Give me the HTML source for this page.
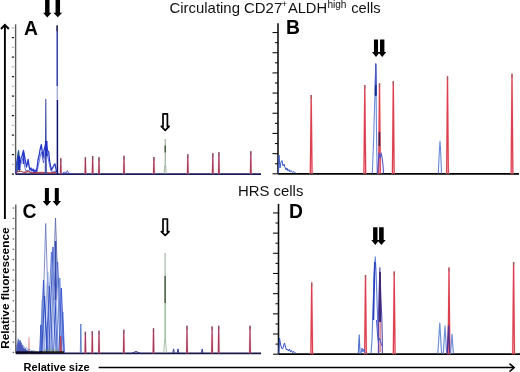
<!DOCTYPE html>
<html><head><meta charset="utf-8"><style>
html,body{margin:0;padding:0;background:#fff;}
svg{display:block;will-change:transform;}
</style></head><body>
<svg width="520" height="372" viewBox="0 0 520 372">
<rect width="520" height="372" fill="#fff"/>
<line x1="15.60" y1="24.30" x2="15.60" y2="174.10" stroke="#5a5a5a" stroke-width="1.40"/><line x1="11.80" y1="174.10" x2="14.00" y2="174.10" stroke="#222" stroke-width="1.3"/><line x1="11.80" y1="164.35" x2="14.00" y2="164.35" stroke="#b8b8b8" stroke-width="1.3"/><line x1="11.80" y1="154.60" x2="14.00" y2="154.60" stroke="#222" stroke-width="1.3"/><line x1="11.80" y1="144.85" x2="14.00" y2="144.85" stroke="#b8b8b8" stroke-width="1.3"/><line x1="11.80" y1="135.10" x2="14.00" y2="135.10" stroke="#222" stroke-width="1.3"/><line x1="11.80" y1="125.35" x2="14.00" y2="125.35" stroke="#b8b8b8" stroke-width="1.3"/><line x1="11.80" y1="115.60" x2="14.00" y2="115.60" stroke="#222" stroke-width="1.3"/><line x1="11.80" y1="105.85" x2="14.00" y2="105.85" stroke="#b8b8b8" stroke-width="1.3"/><line x1="11.80" y1="96.10" x2="14.00" y2="96.10" stroke="#222" stroke-width="1.3"/><line x1="11.80" y1="86.35" x2="14.00" y2="86.35" stroke="#b8b8b8" stroke-width="1.3"/><line x1="11.80" y1="76.60" x2="14.00" y2="76.60" stroke="#222" stroke-width="1.3"/><line x1="11.80" y1="66.85" x2="14.00" y2="66.85" stroke="#b8b8b8" stroke-width="1.3"/><line x1="11.80" y1="57.10" x2="14.00" y2="57.10" stroke="#222" stroke-width="1.3"/><line x1="11.80" y1="47.35" x2="14.00" y2="47.35" stroke="#b8b8b8" stroke-width="1.3"/><line x1="11.80" y1="37.60" x2="14.00" y2="37.60" stroke="#222" stroke-width="1.3"/><line x1="11.80" y1="27.85" x2="14.00" y2="27.85" stroke="#b8b8b8" stroke-width="1.3"/><line x1="15.60" y1="174.10" x2="261.00" y2="174.10" stroke="#1a1a5a" stroke-width="1.80"/>
<line x1="278.00" y1="23.30" x2="278.00" y2="173.80" stroke="#111" stroke-width="1.60"/><line x1="272.50" y1="173.80" x2="278.00" y2="173.80" stroke="#111" stroke-width="1.1"/><line x1="275.00" y1="163.71" x2="278.00" y2="163.71" stroke="#111" stroke-width="1.1"/><line x1="272.50" y1="153.62" x2="278.00" y2="153.62" stroke="#111" stroke-width="1.1"/><line x1="275.00" y1="143.53" x2="278.00" y2="143.53" stroke="#111" stroke-width="1.1"/><line x1="272.50" y1="133.44" x2="278.00" y2="133.44" stroke="#111" stroke-width="1.1"/><line x1="275.00" y1="123.35" x2="278.00" y2="123.35" stroke="#111" stroke-width="1.1"/><line x1="272.50" y1="113.26" x2="278.00" y2="113.26" stroke="#111" stroke-width="1.1"/><line x1="275.00" y1="103.17" x2="278.00" y2="103.17" stroke="#111" stroke-width="1.1"/><line x1="272.50" y1="93.08" x2="278.00" y2="93.08" stroke="#111" stroke-width="1.1"/><line x1="275.00" y1="82.99" x2="278.00" y2="82.99" stroke="#111" stroke-width="1.1"/><line x1="272.50" y1="72.90" x2="278.00" y2="72.90" stroke="#111" stroke-width="1.1"/><line x1="275.00" y1="62.81" x2="278.00" y2="62.81" stroke="#111" stroke-width="1.1"/><line x1="272.50" y1="52.72" x2="278.00" y2="52.72" stroke="#111" stroke-width="1.1"/><line x1="275.00" y1="42.63" x2="278.00" y2="42.63" stroke="#111" stroke-width="1.1"/><line x1="272.50" y1="32.54" x2="278.00" y2="32.54" stroke="#111" stroke-width="1.1"/><line x1="278.00" y1="173.80" x2="519.00" y2="173.80" stroke="#000" stroke-width="1.80"/>
<line x1="15.80" y1="204.50" x2="15.80" y2="353.30" stroke="#5a5a5a" stroke-width="1.40"/><line x1="12.60" y1="352.40" x2="14.20" y2="352.40" stroke="#666" stroke-width="1.2"/><line x1="12.60" y1="342.09" x2="14.20" y2="342.09" stroke="#666" stroke-width="1.2"/><line x1="12.60" y1="331.78" x2="14.20" y2="331.78" stroke="#666" stroke-width="1.2"/><line x1="12.60" y1="321.47" x2="14.20" y2="321.47" stroke="#666" stroke-width="1.2"/><line x1="12.60" y1="311.16" x2="14.20" y2="311.16" stroke="#666" stroke-width="1.2"/><line x1="12.60" y1="300.85" x2="14.20" y2="300.85" stroke="#666" stroke-width="1.2"/><line x1="12.60" y1="290.54" x2="14.20" y2="290.54" stroke="#666" stroke-width="1.2"/><line x1="12.60" y1="280.23" x2="14.20" y2="280.23" stroke="#666" stroke-width="1.2"/><line x1="12.60" y1="269.92" x2="14.20" y2="269.92" stroke="#666" stroke-width="1.2"/><line x1="12.60" y1="259.61" x2="14.20" y2="259.61" stroke="#666" stroke-width="1.2"/><line x1="12.60" y1="249.30" x2="14.20" y2="249.30" stroke="#666" stroke-width="1.2"/><line x1="12.60" y1="238.99" x2="14.20" y2="238.99" stroke="#666" stroke-width="1.2"/><line x1="12.60" y1="228.68" x2="14.20" y2="228.68" stroke="#666" stroke-width="1.2"/><line x1="12.60" y1="218.37" x2="14.20" y2="218.37" stroke="#666" stroke-width="1.2"/><line x1="12.60" y1="208.06" x2="14.20" y2="208.06" stroke="#666" stroke-width="1.2"/><line x1="15.80" y1="353.30" x2="261.00" y2="353.30" stroke="#181848" stroke-width="1.80"/>
<line x1="278.50" y1="203.80" x2="278.50" y2="354.20" stroke="#111" stroke-width="1.60"/><line x1="273.00" y1="354.20" x2="278.50" y2="354.20" stroke="#111" stroke-width="1.1"/><line x1="275.50" y1="344.11" x2="278.50" y2="344.11" stroke="#111" stroke-width="1.1"/><line x1="273.00" y1="334.02" x2="278.50" y2="334.02" stroke="#111" stroke-width="1.1"/><line x1="275.50" y1="323.93" x2="278.50" y2="323.93" stroke="#111" stroke-width="1.1"/><line x1="273.00" y1="313.84" x2="278.50" y2="313.84" stroke="#111" stroke-width="1.1"/><line x1="275.50" y1="303.75" x2="278.50" y2="303.75" stroke="#111" stroke-width="1.1"/><line x1="273.00" y1="293.66" x2="278.50" y2="293.66" stroke="#111" stroke-width="1.1"/><line x1="275.50" y1="283.57" x2="278.50" y2="283.57" stroke="#111" stroke-width="1.1"/><line x1="273.00" y1="273.48" x2="278.50" y2="273.48" stroke="#111" stroke-width="1.1"/><line x1="275.50" y1="263.39" x2="278.50" y2="263.39" stroke="#111" stroke-width="1.1"/><line x1="273.00" y1="253.30" x2="278.50" y2="253.30" stroke="#111" stroke-width="1.1"/><line x1="275.50" y1="243.21" x2="278.50" y2="243.21" stroke="#111" stroke-width="1.1"/><line x1="273.00" y1="233.12" x2="278.50" y2="233.12" stroke="#111" stroke-width="1.1"/><line x1="275.50" y1="223.03" x2="278.50" y2="223.03" stroke="#111" stroke-width="1.1"/><line x1="273.00" y1="212.94" x2="278.50" y2="212.94" stroke="#111" stroke-width="1.1"/><line x1="278.50" y1="354.20" x2="520.00" y2="354.20" stroke="#000" stroke-width="1.80"/>
<text x="169.5" y="12.9" font-size="14.92" font-family='"Liberation Sans", sans-serif' fill='#111'>Circulating CD27</text>
<text x="281.6" y="7.4" font-size="9.6" font-family='"Liberation Sans", sans-serif' fill='#111'>+</text>
<text x="287.9" y="12.9" font-size="14.7" font-family='"Liberation Sans", sans-serif' fill='#111'>ALDH</text>
<text x="327.4" y="7.6" font-size="10.1" font-family='"Liberation Sans", sans-serif' fill='#111'>high</text>
<text x="351.2" y="12.9" font-size="14.7" font-family='"Liberation Sans", sans-serif' fill='#111'>cells</text>
<text x="238.0" y="195.8" font-family='"Liberation Sans", sans-serif' font-size="14.9" fill="#111">HRS cells</text>
<text x="24.0" y="34.9" font-family='"Liberation Sans", sans-serif' font-size="19.3" font-weight="bold" fill="#000">A</text>
<text x="286.0" y="33.8" font-family='"Liberation Sans", sans-serif' font-size="19.3" font-weight="bold" fill="#000">B</text>
<text x="22.4" y="217.7" font-family='"Liberation Sans", sans-serif' font-size="19.3" font-weight="bold" fill="#000">C</text>
<text x="289.0" y="218.1" font-family='"Liberation Sans", sans-serif' font-size="19.3" font-weight="bold" fill="#000">D</text>
<text transform="translate(8.8,348.8) rotate(-90)" x="0" y="0" font-family='"Liberation Sans", sans-serif' font-size="11.8" font-weight="bold" fill="#000">Relative fluorescence</text>
<text x="23.6" y="370.6" font-family='"Liberation Sans", sans-serif' font-size="11" font-weight="bold" fill="#000">Relative size</text>
<line x1="4.9" y1="25" x2="4.9" y2="219" stroke="#000" stroke-width="1.9"/>
<polyline points="1,29 4.9,24.8 8.8,29" fill="none" stroke="#000" stroke-width="1.9"/>
<line x1="98.7" y1="367.6" x2="514" y2="367.6" stroke="#000" stroke-width="1.5"/>
<polyline points="509.5,363.6 514.2,367.6 509.5,371.6" fill="none" stroke="#000" stroke-width="1.5"/>
<polygon points="45.10,-2.00 49.50,-2.00 49.50,12.80 51.50,12.80 47.30,17.60 43.10,12.80 45.10,12.80" fill="#000"/>
<polygon points="55.55,-2.00 60.05,-2.00 60.05,12.80 62.20,12.80 57.80,17.30 53.40,12.80 55.55,12.80" fill="#000"/>
<polygon points="44.90,187.90 48.90,187.90 48.90,201.10 51.10,201.10 46.90,206.00 42.70,201.10 44.90,201.10" fill="#000"/>
<polygon points="54.80,187.90 58.80,187.90 58.80,201.10 61.00,201.10 56.80,206.00 52.60,201.10 54.80,201.10" fill="#000"/>
<polygon points="373.95,39.40 378.05,39.40 378.05,51.90 380.05,51.90 376.00,56.90 371.95,51.90 373.95,51.90" fill="#000"/>
<polygon points="380.00,39.40 384.40,39.40 384.40,51.90 386.30,51.90 382.20,56.90 378.10,51.90 380.00,51.90" fill="#000"/>
<polygon points="373.10,227.30 377.50,227.30 377.50,240.00 379.30,240.00 375.30,245.00 371.30,240.00 373.10,240.00" fill="#000"/>
<polygon points="379.10,227.30 383.70,227.30 383.70,240.00 385.70,240.00 381.40,245.00 377.10,240.00 379.10,240.00" fill="#000"/>
<polygon points="163.00,113.90 167.40,113.90 167.40,126.40 169.10,126.40 165.20,130.40 161.30,126.40 163.00,126.40" fill="#fff" stroke="#000" stroke-width="1.70" stroke-linejoin="round"/>
<polygon points="163.00,219.00 167.40,219.00 167.40,231.60 169.10,231.60 165.20,235.40 161.30,231.60 163.00,231.60" fill="#fff" stroke="#000" stroke-width="1.70" stroke-linejoin="round"/>
<path d="M60.10,174.10 L60.80,158.30 L61.50,174.10" fill="none" stroke="#f0b8c8" stroke-width="1.80" stroke-opacity="0.45"/>
<path d="M60.40,174.10 L60.80,158.30 L61.20,174.10" fill="none" stroke="#a83858" stroke-width="1.10" stroke-opacity="1.00"/>
<line x1="60.80" y1="158.30" x2="60.80" y2="162.30" stroke="#705060" stroke-width="1.3" stroke-opacity="0.7"/>
<path d="M84.70,174.10 L85.40,157.20 L86.10,174.10" fill="none" stroke="#f0b8c8" stroke-width="1.80" stroke-opacity="0.45"/>
<path d="M85.00,174.10 L85.40,157.20 L85.80,174.10" fill="none" stroke="#a83858" stroke-width="1.10" stroke-opacity="1.00"/>
<line x1="85.40" y1="157.20" x2="85.40" y2="161.20" stroke="#705060" stroke-width="1.3" stroke-opacity="0.7"/>
<path d="M91.95,174.10 L92.65,156.00 L93.35,174.10" fill="none" stroke="#f0b8c8" stroke-width="1.80" stroke-opacity="0.45"/>
<path d="M92.25,174.10 L92.65,156.00 L93.05,174.10" fill="none" stroke="#a83858" stroke-width="1.10" stroke-opacity="1.00"/>
<line x1="92.65" y1="156.00" x2="92.65" y2="160.00" stroke="#705060" stroke-width="1.3" stroke-opacity="0.7"/>
<path d="M98.30,174.10 L99.00,157.20 L99.70,174.10" fill="none" stroke="#f0b8c8" stroke-width="1.80" stroke-opacity="0.45"/>
<path d="M98.60,174.10 L99.00,157.20 L99.40,174.10" fill="none" stroke="#a83858" stroke-width="1.10" stroke-opacity="1.00"/>
<line x1="99.00" y1="157.20" x2="99.00" y2="161.20" stroke="#705060" stroke-width="1.3" stroke-opacity="0.7"/>
<path d="M123.30,174.10 L124.00,155.80 L124.70,174.10" fill="none" stroke="#f0b8c8" stroke-width="1.80" stroke-opacity="0.45"/>
<path d="M123.60,174.10 L124.00,155.80 L124.40,174.10" fill="none" stroke="#a83858" stroke-width="1.10" stroke-opacity="1.00"/>
<line x1="124.00" y1="155.80" x2="124.00" y2="159.80" stroke="#705060" stroke-width="1.3" stroke-opacity="0.7"/>
<path d="M153.20,174.10 L153.90,157.10 L154.60,174.10" fill="none" stroke="#f0b8c8" stroke-width="1.80" stroke-opacity="0.45"/>
<path d="M153.50,174.10 L153.90,157.10 L154.30,174.10" fill="none" stroke="#a83858" stroke-width="1.10" stroke-opacity="1.00"/>
<line x1="153.90" y1="157.10" x2="153.90" y2="161.10" stroke="#705060" stroke-width="1.3" stroke-opacity="0.7"/>
<path d="M187.10,174.10 L187.80,154.30 L188.50,174.10" fill="none" stroke="#f0b8c8" stroke-width="1.80" stroke-opacity="0.45"/>
<path d="M187.40,174.10 L187.80,154.30 L188.20,174.10" fill="none" stroke="#a83858" stroke-width="1.10" stroke-opacity="1.00"/>
<line x1="187.80" y1="154.30" x2="187.80" y2="158.30" stroke="#705060" stroke-width="1.3" stroke-opacity="0.7"/>
<path d="M212.10,174.10 L212.80,153.30 L213.50,174.10" fill="none" stroke="#f0b8c8" stroke-width="1.80" stroke-opacity="0.45"/>
<path d="M212.40,174.10 L212.80,153.30 L213.20,174.10" fill="none" stroke="#a83858" stroke-width="1.10" stroke-opacity="1.00"/>
<line x1="212.80" y1="153.30" x2="212.80" y2="157.30" stroke="#705060" stroke-width="1.3" stroke-opacity="0.7"/>
<path d="M218.20,174.10 L218.90,152.20 L219.60,174.10" fill="none" stroke="#f0b8c8" stroke-width="1.80" stroke-opacity="0.45"/>
<path d="M218.50,174.10 L218.90,152.20 L219.30,174.10" fill="none" stroke="#a83858" stroke-width="1.10" stroke-opacity="1.00"/>
<line x1="218.90" y1="152.20" x2="218.90" y2="156.20" stroke="#705060" stroke-width="1.3" stroke-opacity="0.7"/>
<path d="M250.10,174.10 L250.80,151.20 L251.50,174.10" fill="none" stroke="#f0b8c8" stroke-width="1.80" stroke-opacity="0.45"/>
<path d="M250.40,174.10 L250.80,151.20 L251.20,174.10" fill="none" stroke="#a83858" stroke-width="1.10" stroke-opacity="1.00"/>
<line x1="250.80" y1="151.20" x2="250.80" y2="155.20" stroke="#705060" stroke-width="1.3" stroke-opacity="0.7"/>
<line x1="165.2" y1="139" x2="165.2" y2="166" stroke="#8a9e8a" stroke-width="1.0"/>
<polyline points="164.20,174.00 164.70,166.00 165.70,166.00 166.20,174.00" fill="none" stroke="#8a9e8a" stroke-width="0.80" stroke-opacity="1.00" stroke-linejoin="round"/>
<line x1="165.2" y1="145.5" x2="165.2" y2="152.6" stroke="#304830" stroke-width="1.2"/>
<polygon points="16,173 16.5,160 18,155 19.5,162 21,158 23.4,151 25,160 26.5,167 28,160 29.5,170 38,172 39,158 41.8,145 43,152 45,143 48,148 49,156 51,162 53,166 55,164 56.8,172 56.8,174 16,174" fill="#3848d0" fill-opacity="0.0"/>
<polyline points="16.00,173.00 16.80,162.00 17.50,158.00 18.50,151.00 19.30,160.00 20.00,165.00 21.00,158.00 22.00,156.00 23.50,150.50 24.50,156.00 25.50,161.00 26.50,167.00 27.50,163.00 28.20,159.50 29.00,166.00 30.00,170.00 31.00,168.00 32.00,171.00 33.00,169.00 34.00,172.00 35.00,170.00 36.00,172.00 37.00,168.00 38.00,160.00 39.00,156.00 40.00,150.00 41.30,144.60 42.30,152.00 43.00,158.00 44.00,150.00 45.00,147.00 45.80,142.00 46.50,145.00 47.30,150.00 48.70,152.00 49.50,160.00 50.50,166.00 51.50,170.00 52.50,168.00 53.50,166.00 54.90,163.80 55.80,168.00 56.50,172.00" fill="none" stroke="#2838c8" stroke-width="1.30" stroke-opacity="1.00" stroke-linejoin="round"/>
<polyline points="16.00,172.00 17.00,166.00 18.00,160.00 19.00,168.00 20.00,170.00 21.00,163.00 22.00,161.00 23.00,158.00 24.00,163.00 25.00,168.00 26.00,171.00 28.00,170.00 30.00,172.00 33.00,173.00 37.00,172.00 38.50,165.00 39.50,160.00 40.50,155.00 41.50,152.00 42.50,158.00 43.50,163.00 44.50,157.00 45.50,150.00 46.50,148.00 47.50,156.00 48.50,160.00 49.50,165.00 51.00,171.00 53.00,172.00 55.00,171.00 56.50,173.00" fill="none" stroke="#4858d0" stroke-width="1.00" stroke-opacity="0.80" stroke-linejoin="round"/>
<polyline points="17.50,172.00 18.50,151.00 19.50,172.00" fill="none" stroke="#206060" stroke-width="1.10" stroke-opacity="0.90" stroke-linejoin="round"/>
<polyline points="16.00,172.50 20.00,171.00 24.00,172.50 28.00,171.50 32.00,173.00 40.00,172.50 50.00,173.00 56.00,172.50" fill="none" stroke="#a02030" stroke-width="1.30" stroke-opacity="0.80" stroke-linejoin="round"/>
<polyline points="45.30,174.00 45.80,99.20 46.30,174.00" fill="none" stroke="#4050a8" stroke-width="1.10" stroke-opacity="1.00" stroke-linejoin="round"/>
<line x1="46.4" y1="141" x2="46.4" y2="156" stroke="#1828c8" stroke-width="2.2"/>
<line x1="18.8" y1="156" x2="18.8" y2="170" stroke="#1828c0" stroke-width="2.2"/>
<line x1="23.6" y1="153" x2="23.6" y2="164" stroke="#2838c8" stroke-width="1.8"/>
<line x1="57.2" y1="25.5" x2="57.2" y2="86" stroke="#3040a8" stroke-width="1.5"/>
<line x1="57.3" y1="86" x2="57.3" y2="100" stroke="#a8b0d8" stroke-width="1.5"/>
<line x1="57.4" y1="100" x2="57.4" y2="174" stroke="#101070" stroke-width="1.5"/>
<line x1="57.2" y1="25.5" x2="57.2" y2="31.3" stroke="#303048" stroke-width="1.5"/>
<polyline points="62.00,174.00 64.00,172.00 66.00,173.00 67.30,170.50 68.50,173.00 72.00,174.00" fill="none" stroke="#3040c0" stroke-width="1.00" stroke-opacity="0.80" stroke-linejoin="round"/>
<path d="M310.05,173.80 L311.20,95.10 L312.35,173.80" fill="none" stroke="#f8c0c8" stroke-width="1.80" stroke-opacity="0.45"/>
<path d="M310.35,173.80 L311.20,95.10 L312.05,173.80" fill="none" stroke="#dc4050" stroke-width="1.25" stroke-opacity="1.00"/>
<line x1="311.20" y1="95.10" x2="311.20" y2="99.10" stroke="#906060" stroke-width="1.3" stroke-opacity="0.7"/>
<path d="M363.65,173.80 L364.80,85.00 L365.95,173.80" fill="none" stroke="#f8c0c8" stroke-width="1.80" stroke-opacity="0.45"/>
<path d="M363.95,173.80 L364.80,85.00 L365.65,173.80" fill="none" stroke="#dc4050" stroke-width="1.25" stroke-opacity="1.00"/>
<line x1="364.80" y1="85.00" x2="364.80" y2="89.00" stroke="#906060" stroke-width="1.3" stroke-opacity="0.7"/>
<path d="M378.35,173.80 L379.50,83.20 L380.65,173.80" fill="none" stroke="#f8c0c8" stroke-width="1.80" stroke-opacity="0.45"/>
<path d="M378.65,173.80 L379.50,83.20 L380.35,173.80" fill="none" stroke="#dc4050" stroke-width="1.25" stroke-opacity="1.00"/>
<line x1="379.50" y1="83.20" x2="379.50" y2="87.20" stroke="#906060" stroke-width="1.3" stroke-opacity="0.7"/>
<path d="M392.15,173.80 L393.30,81.20 L394.45,173.80" fill="none" stroke="#f8c0c8" stroke-width="1.80" stroke-opacity="0.45"/>
<path d="M392.45,173.80 L393.30,81.20 L394.15,173.80" fill="none" stroke="#dc4050" stroke-width="1.25" stroke-opacity="1.00"/>
<line x1="393.30" y1="81.20" x2="393.30" y2="85.20" stroke="#906060" stroke-width="1.3" stroke-opacity="0.7"/>
<path d="M446.35,173.80 L447.50,76.30 L448.65,173.80" fill="none" stroke="#f8c0c8" stroke-width="1.80" stroke-opacity="0.45"/>
<path d="M446.65,173.80 L447.50,76.30 L448.35,173.80" fill="none" stroke="#dc4050" stroke-width="1.25" stroke-opacity="1.00"/>
<line x1="447.50" y1="76.30" x2="447.50" y2="80.30" stroke="#906060" stroke-width="1.3" stroke-opacity="0.7"/>
<path d="M510.85,173.80 L512.00,73.80 L513.15,173.80" fill="none" stroke="#f8c0c8" stroke-width="1.80" stroke-opacity="0.45"/>
<path d="M511.15,173.80 L512.00,73.80 L512.85,173.80" fill="none" stroke="#dc4050" stroke-width="1.25" stroke-opacity="1.00"/>
<line x1="512.00" y1="73.80" x2="512.00" y2="77.80" stroke="#906060" stroke-width="1.3" stroke-opacity="0.7"/>
<polyline points="372.30,173.50 373.60,140.00 375.80,64.00 376.60,140.00 377.20,173.50" fill="none" stroke="#6a8ad8" stroke-width="1.10" stroke-opacity="1.00" stroke-linejoin="round"/>
<polyline points="375.30,95.00 375.80,64.00 376.30,95.00" fill="none" stroke="#4a58c0" stroke-width="1.40" stroke-opacity="1.00" stroke-linejoin="round"/>
<line x1="375.8" y1="85" x2="375.8" y2="96" stroke="#182888" stroke-width="1.5"/>
<line x1="379.4" y1="132" x2="379.4" y2="146" stroke="#402050" stroke-width="1.6"/>
<polyline points="377.50,173.50 378.50,160.00 379.00,153.00 380.00,158.00 381.00,153.00 382.00,157.00 383.00,165.00 383.50,173.50" fill="none" stroke="#5a50c0" stroke-width="1.10" stroke-opacity="1.00" stroke-linejoin="round"/>
<polyline points="438.30,173.50 439.40,150.00 440.00,141.30 440.60,150.00 441.50,173.50" fill="none" stroke="#6888d8" stroke-width="1.10" stroke-opacity="1.00" stroke-linejoin="round"/>
<polyline points="278.50,173.50 279.00,155.00 280.00,168.00 281.00,162.00 282.00,160.50 283.00,166.00 284.00,164.00 285.00,167.00 286.00,170.00 287.00,168.00 288.00,171.00 289.00,169.50 290.00,172.00 291.00,170.50 292.50,172.50 294.00,171.50 296.00,173.50" fill="none" stroke="#4060c8" stroke-width="1.00" stroke-opacity="1.00" stroke-linejoin="round"/>
<path d="M28.60,353.30 L29.00,337.30 L29.40,353.30" fill="none" stroke="#e0a0a0" stroke-width="1.10" stroke-opacity="1.00"/>
<path d="M84.70,353.30 L85.40,331.70 L86.10,353.30" fill="none" stroke="#f0b8c8" stroke-width="1.80" stroke-opacity="0.45"/>
<path d="M85.00,353.30 L85.40,331.70 L85.80,353.30" fill="none" stroke="#a83858" stroke-width="1.10" stroke-opacity="1.00"/>
<line x1="85.40" y1="331.70" x2="85.40" y2="335.70" stroke="#705060" stroke-width="1.3" stroke-opacity="0.7"/>
<path d="M91.60,353.30 L92.30,331.30 L93.00,353.30" fill="none" stroke="#f0b8c8" stroke-width="1.80" stroke-opacity="0.45"/>
<path d="M91.90,353.30 L92.30,331.30 L92.70,353.30" fill="none" stroke="#a83858" stroke-width="1.10" stroke-opacity="1.00"/>
<line x1="92.30" y1="331.30" x2="92.30" y2="335.30" stroke="#705060" stroke-width="1.3" stroke-opacity="0.7"/>
<path d="M98.30,353.30 L99.00,330.80 L99.70,353.30" fill="none" stroke="#f0b8c8" stroke-width="1.80" stroke-opacity="0.45"/>
<path d="M98.60,353.30 L99.00,330.80 L99.40,353.30" fill="none" stroke="#a83858" stroke-width="1.10" stroke-opacity="1.00"/>
<line x1="99.00" y1="330.80" x2="99.00" y2="334.80" stroke="#705060" stroke-width="1.3" stroke-opacity="0.7"/>
<path d="M123.10,353.30 L123.80,329.80 L124.50,353.30" fill="none" stroke="#f0b8c8" stroke-width="1.80" stroke-opacity="0.45"/>
<path d="M123.40,353.30 L123.80,329.80 L124.20,353.30" fill="none" stroke="#a83858" stroke-width="1.10" stroke-opacity="1.00"/>
<line x1="123.80" y1="329.80" x2="123.80" y2="333.80" stroke="#705060" stroke-width="1.3" stroke-opacity="0.7"/>
<path d="M152.80,353.30 L153.50,328.30 L154.20,353.30" fill="none" stroke="#f0b8c8" stroke-width="1.80" stroke-opacity="0.45"/>
<path d="M153.10,353.30 L153.50,328.30 L153.90,353.30" fill="none" stroke="#a83858" stroke-width="1.10" stroke-opacity="1.00"/>
<line x1="153.50" y1="328.30" x2="153.50" y2="332.30" stroke="#705060" stroke-width="1.3" stroke-opacity="0.7"/>
<path d="M186.30,353.30 L187.00,325.80 L187.70,353.30" fill="none" stroke="#f0b8c8" stroke-width="1.80" stroke-opacity="0.45"/>
<path d="M186.60,353.30 L187.00,325.80 L187.40,353.30" fill="none" stroke="#a83858" stroke-width="1.10" stroke-opacity="1.00"/>
<line x1="187.00" y1="325.80" x2="187.00" y2="329.80" stroke="#705060" stroke-width="1.3" stroke-opacity="0.7"/>
<path d="M211.40,353.30 L212.10,326.40 L212.80,353.30" fill="none" stroke="#f0b8c8" stroke-width="1.80" stroke-opacity="0.45"/>
<path d="M211.70,353.30 L212.10,326.40 L212.50,353.30" fill="none" stroke="#a83858" stroke-width="1.10" stroke-opacity="1.00"/>
<line x1="212.10" y1="326.40" x2="212.10" y2="330.40" stroke="#705060" stroke-width="1.3" stroke-opacity="0.7"/>
<path d="M218.00,353.30 L218.70,325.80 L219.40,353.30" fill="none" stroke="#f0b8c8" stroke-width="1.80" stroke-opacity="0.45"/>
<path d="M218.30,353.30 L218.70,325.80 L219.10,353.30" fill="none" stroke="#a83858" stroke-width="1.10" stroke-opacity="1.00"/>
<line x1="218.70" y1="325.80" x2="218.70" y2="329.80" stroke="#705060" stroke-width="1.3" stroke-opacity="0.7"/>
<path d="M249.30,353.30 L250.00,325.80 L250.70,353.30" fill="none" stroke="#f0b8c8" stroke-width="1.80" stroke-opacity="0.45"/>
<path d="M249.60,353.30 L250.00,325.80 L250.40,353.30" fill="none" stroke="#a83858" stroke-width="1.10" stroke-opacity="1.00"/>
<line x1="250.00" y1="325.80" x2="250.00" y2="329.80" stroke="#705060" stroke-width="1.3" stroke-opacity="0.7"/>
<line x1="165.1" y1="253" x2="165.1" y2="276" stroke="#a0b0a0" stroke-width="1.1"/>
<line x1="165.1" y1="303" x2="165.1" y2="340" stroke="#78a878" stroke-width="1.1"/>
<line x1="165.1" y1="276" x2="165.1" y2="303" stroke="#2e4a2e" stroke-width="1.4"/>
<polyline points="163.80,353.00 164.60,340.00 165.60,340.00 166.40,353.00" fill="none" stroke="#90b090" stroke-width="0.80" stroke-opacity="1.00" stroke-linejoin="round"/>
<polyline points="80.30,353.00 80.80,324.00 81.30,353.00" fill="none" stroke="#6080c8" stroke-width="1.00" stroke-opacity="1.00" stroke-linejoin="round"/>
<polygon points="40,353 41,320 43,290 44.5,282 47,285 49,290 50.6,268 51.5,254 53,248 55.5,244 56.8,255 57.8,266 59.7,280 61.4,290 62.5,305 63.5,325 64.1,353" fill="#a0b4e4" fill-opacity="0.18"/>
<polyline points="41.82,353.00 45.70,223.50 49.59,353.00" fill="none" stroke="#6878c0" stroke-width="0.85" stroke-opacity="1.00" stroke-linejoin="round"/>
<polyline points="50.77,353.00 55.50,218.00 60.23,353.00" fill="none" stroke="#5868b0" stroke-width="0.85" stroke-opacity="1.00" stroke-linejoin="round"/>
<polyline points="48.76,353.00 53.00,247.00 57.24,353.00" fill="none" stroke="#2840c8" stroke-width="0.85" stroke-opacity="1.00" stroke-linejoin="round"/>
<polyline points="46.85,353.00 51.40,252.00 55.95,353.00" fill="none" stroke="#5070d0" stroke-width="0.85" stroke-opacity="1.00" stroke-linejoin="round"/>
<polyline points="53.51,353.00 57.60,262.00 61.70,353.00" fill="none" stroke="#2848c8" stroke-width="0.85" stroke-opacity="1.00" stroke-linejoin="round"/>
<polyline points="50.55,353.00 54.30,246.00 58.04,353.00" fill="none" stroke="#90a8e0" stroke-width="0.85" stroke-opacity="1.00" stroke-linejoin="round"/>
<polyline points="43.75,353.00 47.80,272.00 51.85,353.00" fill="none" stroke="#8aa0e0" stroke-width="0.85" stroke-opacity="1.00" stroke-linejoin="round"/>
<polyline points="40.22,353.00 43.50,280.00 46.78,353.00" fill="none" stroke="#3050c8" stroke-width="0.85" stroke-opacity="1.00" stroke-linejoin="round"/>
<polyline points="56.42,353.00 59.80,278.00 63.17,353.00" fill="none" stroke="#6080d8" stroke-width="0.85" stroke-opacity="1.00" stroke-linejoin="round"/>
<polyline points="58.80,353.00 61.40,288.00 64.00,353.00" fill="none" stroke="#2848c8" stroke-width="0.85" stroke-opacity="1.00" stroke-linejoin="round"/>
<polyline points="46.05,353.00 49.40,286.00 52.75,353.00" fill="none" stroke="#3050c8" stroke-width="0.85" stroke-opacity="1.00" stroke-linejoin="round"/>
<polyline points="40.08,353.00 42.20,300.00 44.32,353.00" fill="none" stroke="#7090d8" stroke-width="0.85" stroke-opacity="1.00" stroke-linejoin="round"/>
<polyline points="61.16,353.00 62.80,312.00 64.44,353.00" fill="none" stroke="#4060d0" stroke-width="0.85" stroke-opacity="1.00" stroke-linejoin="round"/>
<polyline points="51.75,353.00 56.50,258.00 61.25,353.00" fill="none" stroke="#90a8e0" stroke-width="0.85" stroke-opacity="1.00" stroke-linejoin="round"/>
<polyline points="41.75,353.00 44.60,296.00 47.45,353.00" fill="none" stroke="#2040c0" stroke-width="0.85" stroke-opacity="1.00" stroke-linejoin="round"/>
<polyline points="39.68,353.00 40.80,325.00 41.92,353.00" fill="none" stroke="#3050c8" stroke-width="0.85" stroke-opacity="1.00" stroke-linejoin="round"/>
<line x1="55.6" y1="241" x2="55.6" y2="300" stroke="#3848a8" stroke-width="1.4"/>
<polyline points="60.00,353.00 60.60,336.50 61.20,353.00" fill="none" stroke="#c04050" stroke-width="1.20" stroke-opacity="1.00" stroke-linejoin="round"/>
<polyline points="44.00,352.50 46.00,349.00 48.00,351.00 50.00,348.00 52.00,351.50 54.00,349.00 56.00,351.00 58.00,349.00" fill="none" stroke="#70a050" stroke-width="0.90" stroke-opacity="0.70" stroke-linejoin="round"/>
<line x1="40" y1="352.2" x2="64" y2="352.2" stroke="#201810" stroke-width="1.8"/>
<polygon points="16,353 16.5,346 17.5,342 18.5,339 19.5,341 20.5,340.5 21.5,343 22.5,345 23.5,347.5 24.5,349 25.5,348 26.5,350 28,350.5 30,351.5 32,351 34,352 36,352.5 38,353" fill="#2030a8" fill-opacity="0.8"/>
<polyline points="16.50,352.00 17.30,343.00 18.20,338.80 19.00,343.00 20.20,340.00 21.20,344.00 22.00,346.00 23.50,345.50 25.00,349.00 26.50,347.50 28.00,350.00 30.00,349.50 32.00,351.00 34.00,350.50 36.00,352.00" fill="none" stroke="#6080d0" stroke-width="0.80" stroke-opacity="0.80" stroke-linejoin="round"/>
<line x1="16" y1="352.3" x2="42" y2="352.3" stroke="#100818" stroke-width="2"/>
<polyline points="172.80,353.00 173.60,348.90 174.40,353.00" fill="none" stroke="#3040a0" stroke-width="1.00" stroke-opacity="1.00" stroke-linejoin="round"/>
<polyline points="177.20,353.00 178.00,348.90 178.80,353.00" fill="none" stroke="#3040a0" stroke-width="1.00" stroke-opacity="1.00" stroke-linejoin="round"/>
<polyline points="201.40,353.00 202.20,349.00 203.00,353.00" fill="none" stroke="#3040a0" stroke-width="1.00" stroke-opacity="1.00" stroke-linejoin="round"/>
<polyline points="132.00,353.00 136.00,351.50 140.00,353.00" fill="none" stroke="#3040a0" stroke-width="1.00" stroke-opacity="1.00" stroke-linejoin="round"/>
<path d="M310.55,354.20 L311.70,282.50 L312.85,354.20" fill="none" stroke="#f8c0c8" stroke-width="1.80" stroke-opacity="0.45"/>
<path d="M310.85,354.20 L311.70,282.50 L312.55,354.20" fill="none" stroke="#dc4050" stroke-width="1.25" stroke-opacity="1.00"/>
<line x1="311.70" y1="282.50" x2="311.70" y2="286.50" stroke="#906060" stroke-width="1.3" stroke-opacity="0.7"/>
<path d="M364.35,354.20 L365.50,274.90 L366.65,354.20" fill="none" stroke="#f8c0c8" stroke-width="1.80" stroke-opacity="0.45"/>
<path d="M364.65,354.20 L365.50,274.90 L366.35,354.20" fill="none" stroke="#dc4050" stroke-width="1.25" stroke-opacity="1.00"/>
<line x1="365.50" y1="274.90" x2="365.50" y2="278.90" stroke="#906060" stroke-width="1.3" stroke-opacity="0.7"/>
<path d="M393.05,354.20 L394.20,271.50 L395.35,354.20" fill="none" stroke="#f8c0c8" stroke-width="1.80" stroke-opacity="0.45"/>
<path d="M393.35,354.20 L394.20,271.50 L395.05,354.20" fill="none" stroke="#dc4050" stroke-width="1.25" stroke-opacity="1.00"/>
<line x1="394.20" y1="271.50" x2="394.20" y2="275.50" stroke="#906060" stroke-width="1.3" stroke-opacity="0.7"/>
<path d="M447.85,354.20 L449.00,267.50 L450.15,354.20" fill="none" stroke="#f8c0c8" stroke-width="1.80" stroke-opacity="0.45"/>
<path d="M448.15,354.20 L449.00,267.50 L449.85,354.20" fill="none" stroke="#dc4050" stroke-width="1.25" stroke-opacity="1.00"/>
<line x1="449.00" y1="267.50" x2="449.00" y2="271.50" stroke="#906060" stroke-width="1.3" stroke-opacity="0.7"/>
<path d="M512.45,354.20 L513.60,262.00 L514.75,354.20" fill="none" stroke="#f8c0c8" stroke-width="1.80" stroke-opacity="0.45"/>
<path d="M512.75,354.20 L513.60,262.00 L514.45,354.20" fill="none" stroke="#dc4050" stroke-width="1.25" stroke-opacity="1.00"/>
<line x1="513.60" y1="262.00" x2="513.60" y2="266.00" stroke="#906060" stroke-width="1.3" stroke-opacity="0.7"/>
<polyline points="371.00,353.50 372.00,340.00 373.00,310.00 374.00,280.00 375.20,256.70 376.00,270.00 377.00,300.00 378.00,330.00 378.60,345.00 379.00,353.50" fill="none" stroke="#6080d8" stroke-width="1.10" stroke-opacity="1.00" stroke-linejoin="round"/>
<polyline points="373.40,320.00 373.90,295.00 374.40,275.00 374.90,262.00" fill="none" stroke="#2840c0" stroke-width="1.70" stroke-opacity="1.00" stroke-linejoin="round"/>
<polyline points="378.30,353.50 378.60,335.00 378.40,318.00 379.00,295.00 379.90,267.50 380.80,295.00 381.80,318.00 382.20,335.00 382.40,353.50" fill="none" stroke="#5848b0" stroke-width="1.10" stroke-opacity="1.00" stroke-linejoin="round"/>
<line x1="380" y1="272" x2="380" y2="322" stroke="#402878" stroke-width="2"/>
<line x1="380.2" y1="322" x2="380.2" y2="352" stroke="#e09098" stroke-width="1.8"/>
<polyline points="376.50,320.00 377.50,335.00 378.30,342.00 379.50,338.00 381.00,343.00 382.00,346.00" fill="none" stroke="#4858c8" stroke-width="1.00" stroke-opacity="1.00" stroke-linejoin="round"/>
<polyline points="358.30,353.50 359.20,334.80 360.10,353.50" fill="none" stroke="#5070d0" stroke-width="1.10" stroke-opacity="1.00" stroke-linejoin="round"/>
<polyline points="361.00,353.50 362.00,348.00 363.00,352.00 364.00,349.00 365.00,353.50" fill="none" stroke="#5070d0" stroke-width="1.00" stroke-opacity="1.00" stroke-linejoin="round"/>
<polyline points="437.80,353.50 439.80,323.00 441.60,353.50" fill="none" stroke="#7090d8" stroke-width="1.20" stroke-opacity="1.00" stroke-linejoin="round"/>
<polyline points="443.30,353.50 445.00,326.00 446.70,353.50" fill="none" stroke="#7090d8" stroke-width="1.20" stroke-opacity="1.00" stroke-linejoin="round"/>
<polyline points="447.20,353.50 448.50,326.00 449.80,353.50" fill="none" stroke="#503090" stroke-width="1.30" stroke-opacity="1.00" stroke-linejoin="round"/>
<polyline points="450.60,353.50 452.00,334.00 453.40,353.50" fill="none" stroke="#7090d8" stroke-width="1.20" stroke-opacity="1.00" stroke-linejoin="round"/>
<polyline points="278.80,353.50 279.50,338.00 280.50,344.00 281.50,348.00 282.50,349.00 283.50,346.00 284.50,343.00 285.50,347.00 286.50,350.00 287.50,349.00 288.50,351.00 289.50,349.00 290.50,352.00 291.50,350.50 292.50,352.50 294.00,351.50 296.00,353.50" fill="none" stroke="#3050c0" stroke-width="1.00" stroke-opacity="1.00" stroke-linejoin="round"/>
</svg>
</body></html>
